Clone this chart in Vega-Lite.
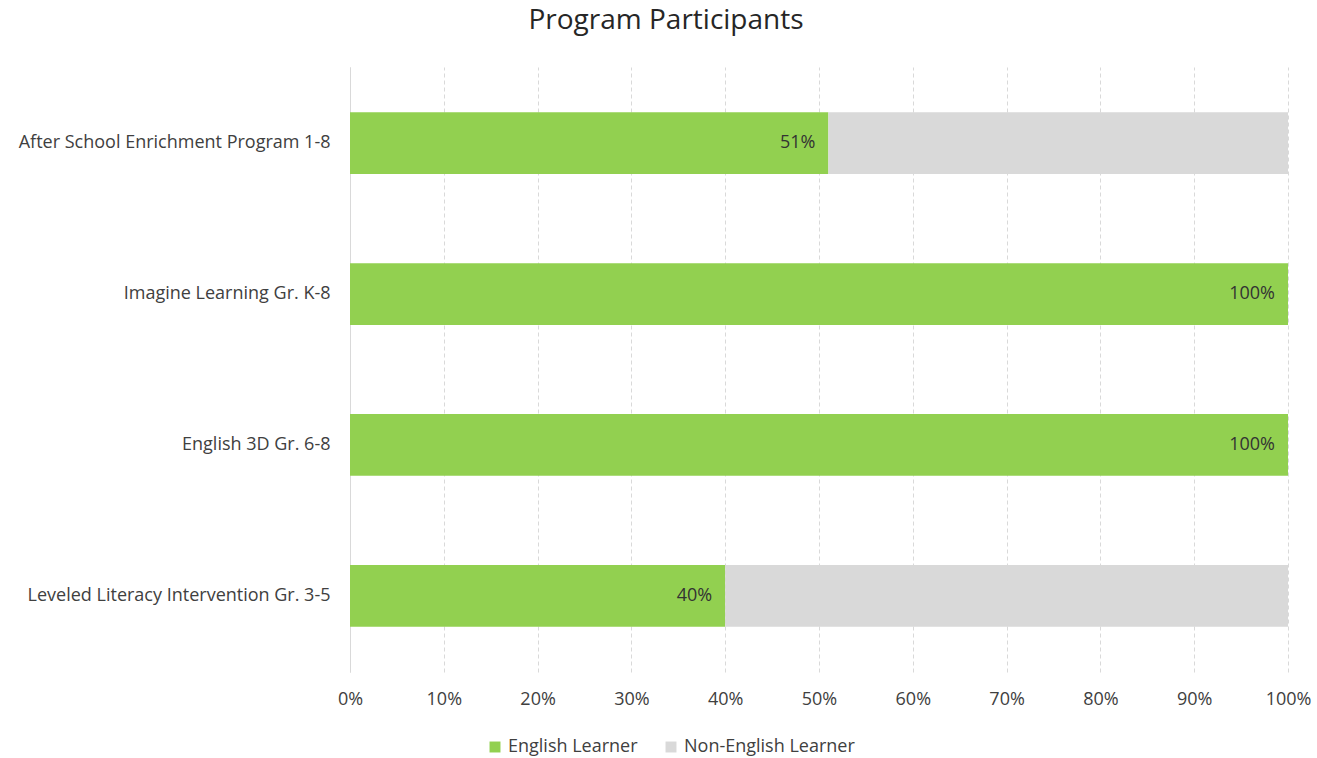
{
  "$schema": "https://vega.github.io/schema/vega-lite/v6.json",
  "width": 938,
  "height": 605,
  "autosize": {"type": "none"},
  "padding": {"left": 350, "top": 67, "right": 29, "bottom": 86},
  "background": "white",
  "view": {"stroke": null},
  "title": {
    "text": "Program Participants",
    "fontSize": 28,
    "font": "Open Sans",
    "fontWeight": "normal",
    "color": "#262626",
    "anchor": "middle",
    "dx": -153,
    "offset": 32
  },
  "data": {
    "values": [
      {"program": "After School Enrichment Program 1-8", "group": "English Learner", "share": 0.51},
      {"program": "After School Enrichment Program 1-8", "group": "Non-English Learner", "share": 0.49},
      {"program": "Imagine Learning Gr. K-8", "group": "English Learner", "share": 1.0},
      {"program": "Imagine Learning Gr. K-8", "group": "Non-English Learner", "share": 0.0},
      {"program": "English 3D Gr. 6-8", "group": "English Learner", "share": 1.0},
      {"program": "English 3D Gr. 6-8", "group": "Non-English Learner", "share": 0.0},
      {"program": "Leveled Literacy Intervention Gr. 3-5", "group": "English Learner", "share": 0.4},
      {"program": "Leveled Literacy Intervention Gr. 3-5", "group": "Non-English Learner", "share": 0.6}
    ]
  },
  "encoding": {
    "y": {
      "field": "program",
      "type": "nominal",
      "sort": ["After School Enrichment Program 1-8", "Imagine Learning Gr. K-8", "English 3D Gr. 6-8", "Leveled Literacy Intervention Gr. 3-5"],
      "scale": {"paddingInner": 0.59, "paddingOuter": 0.3},
      "axis": {
        "title": null,
        "domain": true,
        "domainColor": "#d9d9d9",
        "ticks": false,
        "labelFont": "Open Sans",
        "labelFontSize": 18,
        "labelColor": "#404040",
        "labelPadding": 20,
        "labelLimit": 400
      }
    }
  },
  "layer": [
    {
      "mark": {"type": "bar"},
      "encoding": {
        "x": {
          "field": "share",
          "type": "quantitative",
          "stack": "zero",
          "scale": {"domain": [0, 1], "nice": false},
          "axis": {
            "title": null,
            "values": [0, 0.1, 0.2, 0.3, 0.4, 0.5, 0.6, 0.7, 0.8, 0.9, 1],
            "format": ".0%",
            "grid": true,
            "gridDash": [4, 3],
            "gridColor": "#d9d9d9",
            "domain": false,
            "ticks": false,
            "labelAlign": "center",
            "labelFlush": false,
            "labelFont": "Open Sans",
            "labelFontSize": 18,
            "labelColor": "#404040",
            "labelPadding": 18
          }
        },
        "color": {
          "field": "group",
          "type": "nominal",
          "scale": {"domain": ["English Learner", "Non-English Learner"], "range": ["#92D050", "#D9D9D9"]},
          "legend": {
            "title": null,
            "orient": "none",
            "direction": "horizontal",
            "legendX": 136,
            "legendY": 671,
            "symbolType": "square",
            "symbolSize": 120,
            "symbolStrokeWidth": 0,
            "labelFont": "Open Sans",
            "labelFontSize": 18,
            "labelColor": "#404040",
            "labelLimit": 400,
            "columnPadding": 24
          }
        },
        "order": {"field": "group", "sort": "ascending"}
      }
    },
    {
      "transform": [{"filter": "datum.group === 'English Learner'"}],
      "mark": {"type": "text", "align": "right", "dx": -13, "font": "Open Sans", "fontSize": 18, "color": "#333333"},
      "encoding": {
        "x": {"field": "share", "type": "quantitative"},
        "text": {"field": "share", "type": "quantitative", "format": ".0%"}
      }
    }
  ]
}
